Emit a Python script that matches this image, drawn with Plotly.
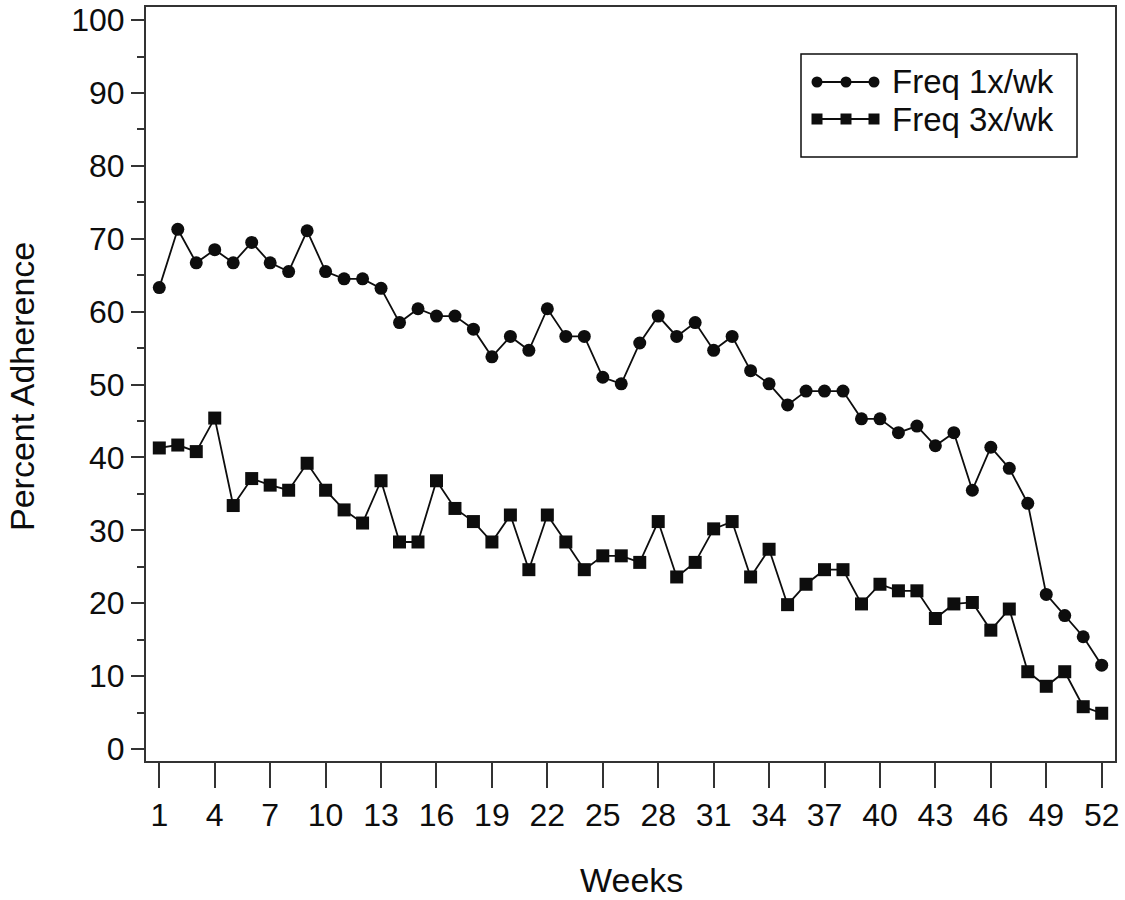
import plotly.graph_objects as go

weeks = list(range(1, 53))
freq_1x = [63.3, 71.3, 66.7, 68.5, 66.7, 69.5, 66.7, 65.5, 71.1, 65.5,
           64.5, 64.5, 63.2, 58.5, 60.4, 59.4, 59.4, 57.6, 53.8, 56.6,
           54.7, 60.4, 56.6, 56.6, 51.0, 50.1, 55.7, 59.4, 56.6, 58.5,
           54.7, 56.6, 51.9, 50.1, 47.2, 49.1, 49.1, 49.1, 45.3, 45.3,
           43.4, 44.3, 41.6, 43.4, 35.5, 41.4, 38.5, 33.7, 21.2, 18.3,
           15.4, 11.5]
freq_3x = [41.3, 41.7, 40.8, 45.4, 33.4, 37.1, 36.2, 35.5, 39.2, 35.5,
           32.8, 31.0, 36.8, 28.4, 28.4, 36.8, 33.0, 31.2, 28.4, 32.1,
           24.6, 32.1, 28.4, 24.6, 26.5, 26.5, 25.6, 31.2, 23.6, 25.6,
           30.2, 31.2, 23.6, 27.4, 19.8, 22.6, 24.6, 24.6, 19.9, 22.6,
           21.7, 21.7, 17.9, 19.9, 20.1, 16.3, 19.2, 10.6, 8.6, 10.6,
           5.8, 4.9]
series_names = ["Freq 1x/wk", "Freq 3x/wk"]
x_tickvals = list(range(1, 53, 3))
y_tickvals = list(range(0, 101, 10))

W, H = 1125, 900
L, R, T, B = 146, 1115, 7, 761
FONT = "Liberation Sans, Arial, sans-serif"
INK = "#0d0d0d"


def px(x):
    return (x - L) / (R - L)


def py(y):
    return (B - y) / (B - T)


fig = go.Figure()
fig.add_trace(go.Scatter(x=weeks, y=freq_1x, mode="lines+markers", name=series_names[0],
                         line=dict(color=INK, width=1.8),
                         marker=dict(symbol="circle", size=13, color=INK)))
fig.add_trace(go.Scatter(x=weeks, y=freq_3x, mode="lines+markers", name=series_names[1],
                         line=dict(color=INK, width=1.8),
                         marker=dict(symbol="square", size=13, color=INK)))

shapes = []
annotations = []
# legend box
shapes.append(dict(type="rect", xref="paper", yref="paper",
                   x0=px(801), x1=px(1077), y0=py(157), y1=py(54),
                   line=dict(color=INK, width=1.5), fillcolor="white"))
rows = [(82, "circle"), (119, "square")]
for (ry, sym), name in zip(rows, series_names):
    shapes.append(dict(type="line", xref="paper", yref="paper",
                       x0=px(815), x1=px(877), y0=py(ry), y1=py(ry),
                       line=dict(color=INK, width=1.8)))
    for mx in (817, 846, 874):
        shapes.append(dict(type="circle" if sym == "circle" else "rect",
                           xref="paper", yref="paper",
                           xsizemode="pixel", ysizemode="pixel",
                           xanchor=px(mx), yanchor=py(ry),
                           x0=-5.5, x1=5.5, y0=-5.5, y1=5.5,
                           fillcolor=INK, line=dict(color=INK, width=0)))
    annotations.append(dict(x=px(890), y=py(ry), xref="paper", yref="paper",
                            text=name, showarrow=False, xanchor="left", yanchor="middle",
                            font=dict(size=33, color=INK, family=FONT)))

annotations.append(dict(x=px(631), y=py(880), xref="paper", yref="paper",
                        text="Weeks", showarrow=False, xanchor="center", yanchor="middle",
                        font=dict(size=34, color=INK, family=FONT)))
annotations.append(dict(x=px(22), y=py(387), xref="paper", yref="paper",
                        text="Percent Adherence", showarrow=False, textangle=-90,
                        xanchor="center", yanchor="middle",
                        font=dict(size=34, color=INK, family=FONT)))

fig.update_layout(
    width=W, height=H,
    margin=dict(l=L, r=W - R, t=T, b=H - B),
    paper_bgcolor="white", plot_bgcolor="white",
    showlegend=False,
    font=dict(family=FONT, size=32, color=INK),
    shapes=shapes, annotations=annotations,
    xaxis=dict(range=[0.28, 52.72], tickvals=x_tickvals, ticks="outside", ticklen=25,
               tickwidth=1.5, tickcolor="#333", showline=True, linecolor="#333",
               linewidth=2, mirror=True, showgrid=False, zeroline=False, automargin=False,
               tickfont=dict(size=32, color=INK, family=FONT)),
    yaxis=dict(range=[-1.65, 101.8], tickvals=y_tickvals, ticks="outside", ticklen=13,
               tickwidth=1.5, tickcolor="#333", showline=True, linecolor="#333",
               linewidth=2, mirror=True, showgrid=False, zeroline=False, automargin=False,
               minor=dict(dtick=5, tick0=5, ticks="outside", ticklen=7, tickwidth=1.5,
                          tickcolor="#333", showgrid=False),
               tickfont=dict(size=32, color=INK, family=FONT)),
)

fig.write_html("out.html", config={"displayModeBar": False},
               post_script="document.body.style.margin='0';document.body.style.overflow='hidden';")
